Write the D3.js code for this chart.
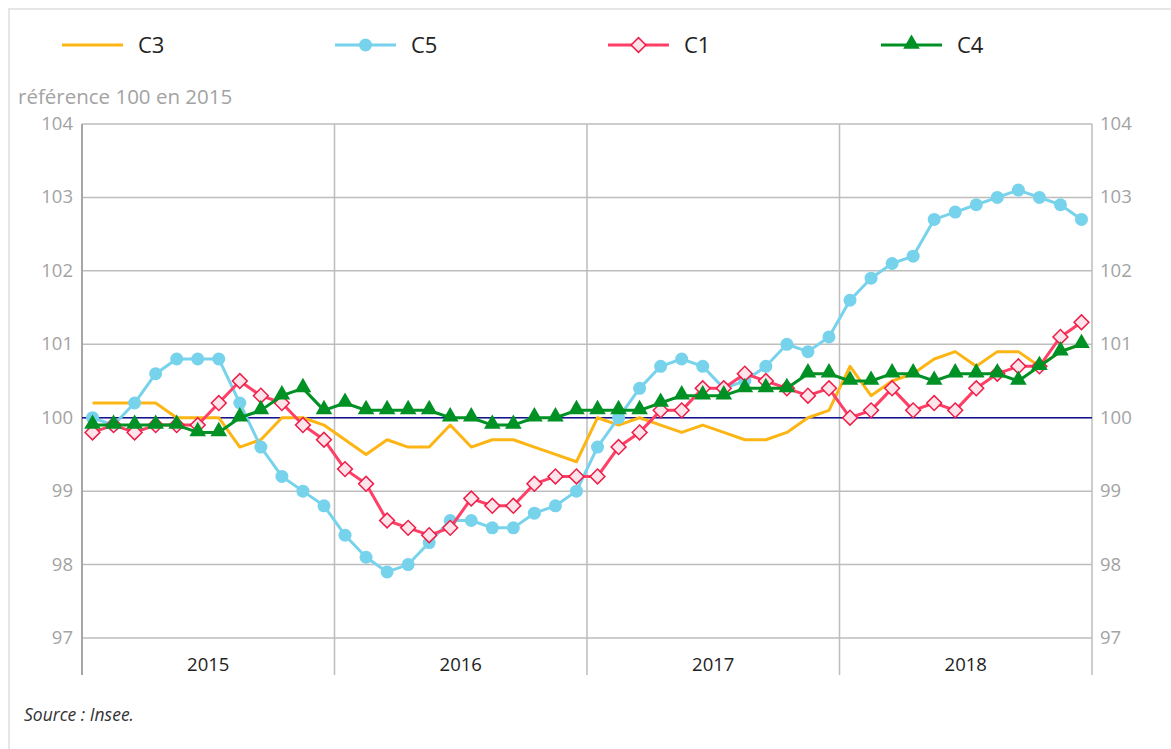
<!DOCTYPE html>
<html>
<head>
<meta charset="utf-8">
<script src="https://d3js.org/d3.v7.min.js"></script>
<style>
body { margin: 0; background: #fff; font-family: "Open Sans", sans-serif; }
</style>
</head>
<body>
<script>
// annual labels and monthly values (Jan 2015 -> Dec 2018)
var years = ["2015", "2016", "2017", "2018"];
var yTicks = [97, 98, 99, 100, 101, 102, 103, 104];

var C3 = [100.2, 100.2, 100.2, 100.2, 100.0, 100.0, 100.0, 99.6, 99.7, 100.0, 100.0, 99.9,
          99.7, 99.5, 99.7, 99.6, 99.6, 99.9, 99.6, 99.7, 99.7, 99.6, 99.5, 99.4,
          100.0, 99.9, 100.0, 99.9, 99.8, 99.9, 99.8, 99.7, 99.7, 99.8, 100.0, 100.1,
          100.7, 100.3, 100.5, 100.6, 100.8, 100.9, 100.7, 100.9, 100.9, 100.7, 100.9, 101.0];
var C5 = [100.0, 99.9, 100.2, 100.6, 100.8, 100.8, 100.8, 100.2, 99.6, 99.2, 99.0, 98.8,
          98.4, 98.1, 97.9, 98.0, 98.3, 98.6, 98.6, 98.5, 98.5, 98.7, 98.8, 99.0,
          99.6, 100.0, 100.4, 100.7, 100.8, 100.7, 100.4, 100.5, 100.7, 101.0, 100.9, 101.1,
          101.6, 101.9, 102.1, 102.2, 102.7, 102.8, 102.9, 103.0, 103.1, 103.0, 102.9, 102.7];
var C1 = [99.8, 99.9, 99.8, 99.9, 99.9, 99.9, 100.2, 100.5, 100.3, 100.2, 99.9, 99.7,
          99.3, 99.1, 98.6, 98.5, 98.4, 98.5, 98.9, 98.8, 98.8, 99.1, 99.2, 99.2,
          99.2, 99.6, 99.8, 100.1, 100.1, 100.4, 100.4, 100.6, 100.5, 100.4, 100.3, 100.4,
          100.0, 100.1, 100.4, 100.1, 100.2, 100.1, 100.4, 100.6, 100.7, 100.7, 101.1, 101.3];
var C4 = [99.9, 99.9, 99.9, 99.9, 99.9, 99.8, 99.8, 100.0, 100.1, 100.3, 100.4, 100.1,
          100.2, 100.1, 100.1, 100.1, 100.1, 100.0, 100.0, 99.9, 99.9, 100.0, 100.0, 100.1,
          100.1, 100.1, 100.1, 100.2, 100.3, 100.3, 100.3, 100.4, 100.4, 100.4, 100.6, 100.6,
          100.5, 100.5, 100.6, 100.6, 100.5, 100.6, 100.6, 100.6, 100.5, 100.7, 100.9, 101.0];

var w = 1171, h = 749;
var plotLeft = 82, plotRight = 1092, plotTop = 124, plotBottom = 638;

var svg = d3.select("body").append("svg")
    .attr("width", w)
    .attr("height", h);

// card border
svg.append("path")
    .attr("d", "M9," + h + "V9H" + w)
    .attr("fill", "none")
    .attr("stroke", "#e6e6e6")
    .attr("stroke-width", 2);

var x = d3.scaleLinear().domain([0, C3.length]).range([plotLeft, plotRight]);
var y = d3.scaleLinear().domain([97, 104]).range([plotBottom, plotTop]);

// horizontal grid
svg.selectAll(".grid")
    .data(yTicks).enter()
    .append("line")
    .attr("x1", plotLeft).attr("x2", plotRight)
    .attr("y1", function (d) { return y(d); })
    .attr("y2", function (d) { return y(d); })
    .attr("stroke", "#bdbdbd")
    .attr("stroke-width", 1.5);

// vertical year separators
svg.selectAll(".sep")
    .data(d3.range(years.length + 1)).enter()
    .append("line")
    .attr("x1", function (d) { return x(d * 12); })
    .attr("x2", function (d) { return x(d * 12); })
    .attr("y1", plotTop).attr("y2", 675)
    .attr("stroke", function (d) { return d == 0 ? "#a6a6a6" : "#bdbdbd"; })
    .attr("stroke-width", function (d) { return d == 0 ? 2 : 1.5; });

// left / right tick labels
svg.selectAll(".yl")
    .data(yTicks).enter()
    .append("text")
    .attr("x", 73)
    .attr("y", function (d) { return y(d) + 6; })
    .attr("text-anchor", "end")
    .attr("fill", "#a3a3a3")
    .style("font-size", "18.5px")
    .text(function (d) { return d; });

svg.selectAll(".yr")
    .data(yTicks).enter()
    .append("text")
    .attr("x", 1100)
    .attr("y", function (d) { return y(d) + 6; })
    .attr("fill", "#a3a3a3")
    .style("font-size", "18.5px")
    .text(function (d) { return d; });

// year labels
svg.selectAll(".year")
    .data(years).enter()
    .append("text")
    .attr("x", function (d, i) { return x(i * 12 + 6); })
    .attr("y", 671)
    .attr("text-anchor", "middle")
    .attr("fill", "#222")
    .style("font-size", "18.5px")
    .text(function (d) { return d; });

// reference line at 100
svg.append("line")
    .attr("x1", plotLeft).attr("x2", plotRight)
    .attr("y1", y(100)).attr("y2", y(100))
    .attr("stroke", "#141490")
    .attr("stroke-width", 1.5);

var line = d3.line()
    .x(function (d, i) { return x(i + 0.5); })
    .y(function (d) { return y(d); });

var series = [
    {name: "C3", values: C3, color: "#fdb515", marker: "none"},
    {name: "C5", values: C5, color: "#77d3ec", marker: "circle"},
    {name: "C1", values: C1, color: "#ff3f66", marker: "diamond"},
    {name: "C4", values: C4, color: "#009125", marker: "triangle"}
];

var diamond = d3.symbol().type(d3.symbolSquare).size(110);
var triangle = d3.symbol().type(d3.symbolTriangle).size(120);

function drawMarker(g, s, px, py) {
    if (s.marker == "circle") {
        g.append("circle")
            .attr("cx", px).attr("cy", py).attr("r", 6.5)
            .attr("fill", s.color);
    } else if (s.marker == "diamond") {
        g.append("path")
            .attr("d", diamond())
            .attr("transform", "translate(" + px + "," + py + ") rotate(45)")
            .attr("fill", "#fde4ea")
            .attr("stroke", "#ee1c47")
            .attr("stroke-width", 1.5);
    } else if (s.marker == "triangle") {
        g.append("path")
            .attr("d", triangle())
            .attr("transform", "translate(" + px + "," + (py - 1) + ")")
            .attr("fill", s.color);
    }
}

series.forEach(function (s) {
    var g = svg.append("g");
    g.append("path")
        .datum(s.values)
        .attr("d", line)
        .attr("fill", "none")
        .attr("stroke", s.color)
        .attr("stroke-width", 3)
        .attr("stroke-linejoin", "round");
    s.values.forEach(function (v, i) {
        drawMarker(g, s, x(i + 0.5), y(v));
    });
});

// legend
var lg = svg.append("g");
series.forEach(function (s, i) {
    var lx = 62 + i * 273;
    lg.append("line")
        .attr("x1", lx).attr("x2", lx + 61)
        .attr("y1", 45).attr("y2", 45)
        .attr("stroke", s.color)
        .attr("stroke-width", 3);
    drawMarker(lg, s, lx + 30.5, 45);
    lg.append("text")
        .attr("x", lx + 76)
        .attr("y", 53)
        .attr("fill", "#222")
        .style("font-size", "22px")
        .text(s.name);
});

svg.append("text")
    .attr("x", 18)
    .attr("y", 104)
    .attr("fill", "#a3a3a3")
    .style("font-size", "20.5px")
    .text("référence 100 en 2015");

svg.append("text")
    .attr("x", 24)
    .attr("y", 721)
    .attr("fill", "#333")
    .style("font-size", "17.5px")
    .style("font-style", "italic")
    .text("Source : Insee.");
</script>
</body>
</html>
